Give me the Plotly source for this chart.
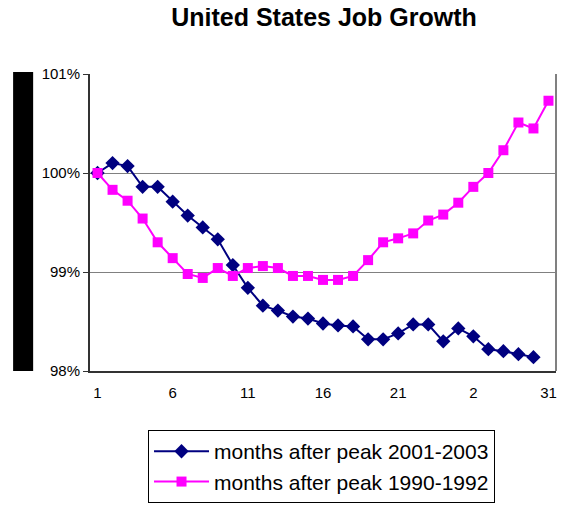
import plotly.graph_objects as go

# months after the employment peak
months = list(range(1, 32))

# payroll employment as % of the peak month
growth_2001_2003 = [100.00, 100.10, 100.07, 99.86, 99.86, 99.71, 99.57, 99.45, 99.33, 99.07,
                    98.84, 98.66, 98.61, 98.55, 98.53, 98.48, 98.46, 98.45, 98.32, 98.32,
                    98.38, 98.47, 98.47, 98.30, 98.43, 98.35, 98.22, 98.20, 98.17, 98.14]
growth_1990_1992 = [100.00, 99.83, 99.72, 99.54, 99.30, 99.14, 98.98, 98.94, 99.04, 98.96,
                    99.04, 99.06, 99.04, 98.96, 98.96, 98.92, 98.92, 98.96, 99.12, 99.30,
                    99.34, 99.39, 99.52, 99.58, 99.70, 99.86, 100.00, 100.23, 100.51, 100.45,
                    100.73]

x_tickvals = [1, 6, 11, 16, 21, 26, 31]
x_ticktext = ["1", "6", "11", "16", "21", "2", "31"]
y_tickvals = [98, 99, 100, 101]
y_ticktext = ["98%", "99%", "100%", "101%"]

fig = go.Figure()
fig.add_trace(go.Scatter(
    x=months[:len(growth_2001_2003)], y=growth_2001_2003,
    mode="lines+markers", name="months after peak 2001-2003",
    line=dict(color="#000080", width=2),
    marker=dict(symbol="diamond", size=11, color="#000080"),
))
fig.add_trace(go.Scatter(
    x=months, y=growth_1990_1992,
    mode="lines+markers", name="months after peak 1990-1992",
    line=dict(color="#FF00FF", width=2),
    marker=dict(symbol="square", size=10, color="#FF00FF"),
))

# page body has an 8px margin: keep the figure small enough to avoid scrollbars
fig.update_layout(
    width=550, height=496,
    margin=dict(l=82, r=2, t=66, b=132),
    paper_bgcolor="white", plot_bgcolor="white",
    font=dict(family="Liberation Sans, Arial", color="black", size=14),
    title=dict(text="<b>United States Job Growth</b>", x=316 / 550, xanchor="center",
               y=1, yanchor="top", pad=dict(t=0), font=dict(size=25)),
    showlegend=True,
    legend=dict(x=0.1245, y=-0.195, xanchor="left", yanchor="top",
                bordercolor="black", borderwidth=1, bgcolor="white",
                font=dict(size=21), itemwidth=55),
    xaxis=dict(range=[0.5, 31.5], tickvals=x_tickvals, ticktext=x_ticktext,
               showgrid=False, zeroline=False, showline=True, linecolor="#333333",
               linewidth=2, ticks="outside", ticklen=7, tickcolor="rgba(0,0,0,0)",
               tickfont=dict(size=15)),
    yaxis=dict(range=[98, 101], tickvals=y_tickvals, ticktext=y_ticktext,
               showgrid=True, gridcolor="#808080", gridwidth=1, zeroline=False,
               showline=True, linecolor="#333333", linewidth=2,
               ticks="outside", ticklen=5, tickcolor="#333333", tickfont=dict(size=15)),
    shapes=[
        # right border of plot area
        dict(type="line", xref="paper", yref="paper", x0=1, x1=1, y0=0, y1=1,
             line=dict(color="#808080", width=2)),
        # black bar left of the axis
        dict(type="rect", xref="paper", yref="paper", x0=-0.165, x1=-0.122,
             y0=0, y1=1.007, fillcolor="black", line=dict(width=0)),
    ],
)

fig.write_html("out.html")
